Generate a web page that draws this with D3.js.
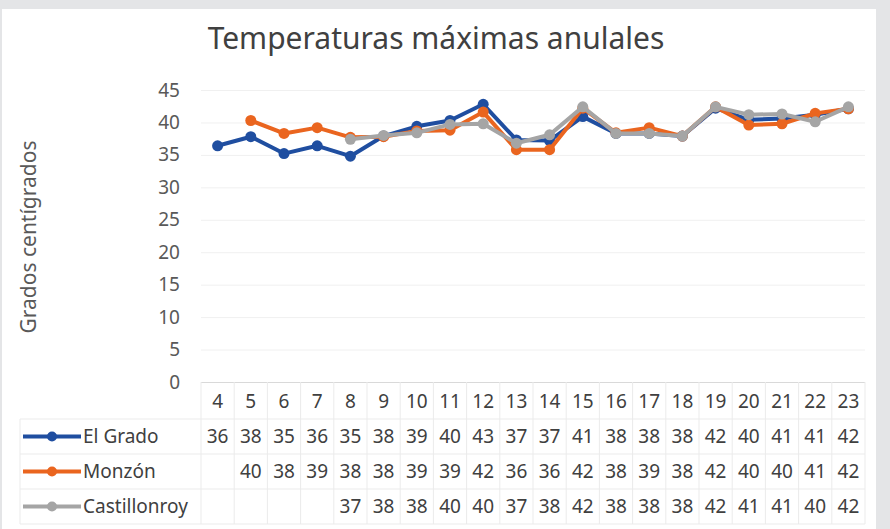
<!DOCTYPE html>
<html>
<head>
<meta charset="utf-8">
<script src="https://cdn.jsdelivr.net/npm/d3@7"></script>
<style>
  body { margin: 0; background: #e4e5e7; }
  svg { display: block; font-family: "Noto Sans", sans-serif; }
</style>
</head>
<body>
<div id="chart"></div>
<script>
// data
const categories = [4, 5, 6, 7, 8, 9, 10, 11, 12, 13, 14, 15, 16, 17, 18, 19, 20, 21, 22, 23];
const seriesNames = ["El Grado", "Monzón", "Castillonroy"];
const elGrado = [36.4, 37.8, 35.2, 36.4, 34.8, 37.9, 39.4, 40.3, 42.8, 37.3, 37.2, 40.9, 38.3, 38.3, 37.9, 42.2, 40.4, 40.6, 41.2, 42.1];
const monzon = [null, 40.3, 38.3, 39.2, 37.7, 37.8, 38.7, 38.8, 41.6, 35.8, 35.8, 42.2, 38.4, 39.2, 37.9, 42.4, 39.6, 39.8, 41.4, 42.1];
const castillonroy = [null, null, null, null, 37.4, 38.0, 38.4, 39.7, 39.8, 36.8, 38.1, 42.4, 38.3, 38.3, 37.9, 42.4, 41.2, 41.3, 40.1, 42.4];
const yTicks = [0, 5, 10, 15, 20, 25, 30, 35, 40, 45];
const colors = ["#1f4ea0", "#ea651f", "#a5a5a5"];

const allSeries = [elGrado, monzon, castillonroy];

const width = 890, height = 529;
const margin = {top: 90, right: 25, bottom: 147, left: 201};
const plotW = width - margin.left - margin.right;
const plotH = height - margin.top - margin.bottom;

const svg = d3.select('#chart').append('svg')
    .attr('width', width)
    .attr('height', height);

// grey frame + white panel
svg.append('rect').attr('width', width).attr('height', height).attr('fill', '#e4e5e7');
svg.append('rect').attr('x', 2).attr('y', 9).attr('width', 874).attr('height', height - 9).attr('fill', '#fff');

const x = d3.scaleBand()
    .domain(categories)
    .range([0, plotW]);

const y = d3.scaleLinear()
    .domain([0, 45])
    .range([plotH, 0]);

const g = svg.append('g')
    .attr('transform', `translate(${margin.left}, ${margin.top})`);

// title
svg.append('text')
  .attr('x', 436)
  .attr('y', 49)
  .attr('text-anchor', 'middle')
  .attr('font-size', '30px')
  .attr('fill', '#404040')
  .text('Temperaturas máximas anulales');

// axis title
svg.append('text')
  .attr('transform', 'translate(36, 237) rotate(-90)')
  .attr('text-anchor', 'middle')
  .attr('font-size', '21px')
  .attr('fill', '#595959')
  .text('Grados centígrados');

// gridlines + y labels
const yAxis = d3.axisLeft(y).tickValues(yTicks).tickSize(-plotW).tickPadding(21);
g.append('g')
  .call(yAxis)
  .call(a => a.select('.domain').remove())
  .call(a => a.selectAll('.tick line').attr('stroke', d => d === 0 ? '#d9d9d9' : '#f0f0f0'))
  .call(a => a.selectAll('.tick text')
      .attr('font-size', '19px')
      .attr('font-family', '"Noto Sans", sans-serif')
      .attr('fill', '#595959'));

// lines and markers
const line = d3.line()
    .defined(d => d.v != null)
    .x(d => x(d.c) + x.bandwidth() / 2)
    .y(d => y(d.v));

allSeries.forEach((vals, i) => {
  const pts = categories.map((c, j) => ({c: c, v: vals[j]}));
  g.append('path')
    .datum(pts)
    .attr('fill', 'none')
    .attr('stroke', colors[i])
    .attr('stroke-width', 4)
    .attr('stroke-linejoin', 'round')
    .attr('d', line);
  g.selectAll('.m' + i)
    .data(pts.filter(d => d.v != null))
    .join('circle')
      .attr('cx', d => x(d.c) + x.bandwidth() / 2)
      .attr('cy', d => y(d.v))
      .attr('r', 5.5)
      .attr('fill', colors[i]);
});

// data table
const rowH = 35;
const tableTop = margin.top + plotH + 2;
const tableLeft = 20;
const tg = svg.append('g');
const gridColor = '#ebebeb';

// horizontal lines
for (let r = 1; r <= 4; r++) {
  tg.append('line')
    .attr('x1', tableLeft).attr('x2', margin.left + plotW)
    .attr('y1', tableTop + r * rowH).attr('y2', tableTop + r * rowH)
    .attr('stroke', gridColor);
}
// vertical lines
categories.forEach(c => {
  tg.append('line')
    .attr('x1', margin.left + x(c)).attr('x2', margin.left + x(c))
    .attr('y1', tableTop - 2).attr('y2', tableTop + 4 * rowH)
    .attr('stroke', gridColor);
});
tg.append('line')
  .attr('x1', margin.left + plotW).attr('x2', margin.left + plotW)
  .attr('y1', tableTop - 2).attr('y2', tableTop + 4 * rowH)
  .attr('stroke', gridColor);
tg.append('line')
  .attr('x1', tableLeft).attr('x2', tableLeft)
  .attr('y1', tableTop + rowH).attr('y2', tableTop + 4 * rowH)
  .attr('stroke', gridColor);

// category row
tg.selectAll('.cat')
  .data(categories)
  .join('text')
    .attr('x', d => margin.left + x(d) + x.bandwidth() / 2)
    .attr('y', tableTop + rowH / 2)
    .attr('dy', '0.35em')
    .attr('text-anchor', 'middle')
    .attr('font-size', '19px')
    .attr('fill', '#404040')
    .text(d => d);

// series rows
allSeries.forEach((vals, i) => {
  const cy = tableTop + (i + 1.5) * rowH;
  tg.append('line')
    .attr('x1', 23).attr('x2', 81)
    .attr('y1', cy).attr('y2', cy)
    .attr('stroke', colors[i])
    .attr('stroke-width', 4);
  tg.append('circle')
    .attr('cx', 52).attr('cy', cy).attr('r', 5)
    .attr('fill', colors[i]);
  tg.append('text')
    .attr('x', 83).attr('y', cy).attr('dy', '0.35em')
    .attr('font-size', '19px')
    .attr('fill', '#404040')
    .text(seriesNames[i]);
  tg.selectAll('.v' + i)
    .data(categories.map((c, j) => ({c: c, v: vals[j]})).filter(d => d.v != null))
    .join('text')
      .attr('x', d => margin.left + x(d.c) + x.bandwidth() / 2)
      .attr('y', cy)
      .attr('dy', '0.35em')
      .attr('text-anchor', 'middle')
      .attr('font-size', '19px')
      .attr('fill', '#404040')
      .text(d => Math.round(d.v));
});
</script>
</body>
</html>
